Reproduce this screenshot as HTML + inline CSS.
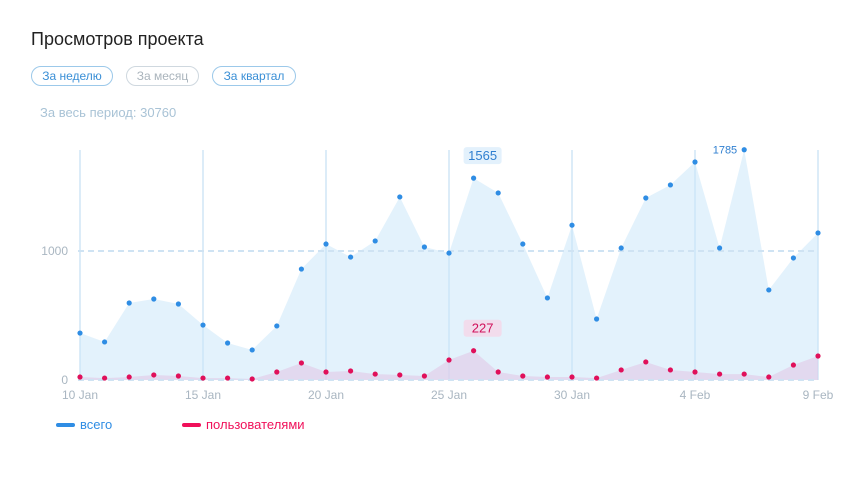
<!DOCTYPE html>
<html><head><meta charset="utf-8">
<style>
body{margin:0;background:#fff;font-family:"Liberation Sans","DejaVu Sans",sans-serif;}
#wrap{position:relative;width:859px;height:479px;overflow:hidden;}
h1{position:absolute;left:31px;top:29px;margin:0;font-weight:normal;font-size:18px;color:#222;}
.btn{position:absolute;top:66px;height:20px;line-height:19px;border:1px solid #9cc9ea;border-radius:11px;padding:0;font-size:12px;color:#3a8fd6;box-sizing:border-box;white-space:nowrap;text-align:center;}
.btn.g{border-color:#cfd8df;color:#aab4bc;}
#total{position:absolute;left:40px;top:105px;font-size:13px;color:#a9c3d6;white-space:nowrap;}
svg{position:absolute;left:0;top:0;}
</style></head>
<body><div id="wrap">
<h1>Просмотров проекта</h1>
<div class="btn" style="left:31px;width:82px">За неделю</div>
<div class="btn g" style="left:126px;width:73px">За месяц</div>
<div class="btn" style="left:212px;width:84px">За квартал</div>
<div id="total">За весь период: 30760</div>
<svg id="chart" width="859" height="479"></svg>
</div>
<script>
const dates=["10 Jan","11 Jan","12 Jan","13 Jan","14 Jan","15 Jan","16 Jan","17 Jan","18 Jan","19 Jan","20 Jan","21 Jan","22 Jan","23 Jan","24 Jan","25 Jan","26 Jan","27 Jan","28 Jan","29 Jan","30 Jan","31 Jan","1 Feb","2 Feb","3 Feb","4 Feb","5 Feb","6 Feb","7 Feb","8 Feb","9 Feb"];
const totalValues=[364,295,597,628,589,426,287,233,419,860,1054,953,1078,1419,1031,984,1565,1450,1054,636,1200,473,1023,1411,1512,1690,1023,1785,698,946,1140];
const userValues=[23,15,23,39,31,15,15,8,62,132,62,70,46,39,31,155,227,62,31,23,23,15,78,140,78,62,46,46,23,116,186];
const yTicks=[0,1000];
const xTickEvery=5;
const NS="http://www.w3.org/2000/svg";
const svg=document.getElementById('chart');
const x0=80,x1=818,yBase=380,pxPer=0.129;
function xs(i){return x0+(x1-x0)*i/(dates.length-1);}
function ys(v){return yBase-v*pxPer;}
function mk(t,a){const e=document.createElementNS(NS,t);for(const k in a)e.setAttribute(k,a[k]);svg.appendChild(e);return e;}
dates.forEach((d,i)=>{if(i%xTickEvery!==0)return;
 const l=mk('line',{x1:xs(i),x2:xs(i),y1:150,y2:yBase,stroke:'#dcecf8','stroke-width':2});
 
 
 const t=mk('text',{x:xs(i),y:399,'text-anchor':'middle','font-size':12,fill:'#a9b6c1'});
 t.textContent=d;
 
 
});
function area(vals,fill,name){
 let p='M'+xs(0)+','+yBase;vals.forEach((v,i)=>p+=' L'+xs(i)+','+ys(v));p+=' L'+xs(vals.length-1)+','+yBase+' Z';
 const a=mk('path',{d:p,fill:fill});
 
 
}
area(totalValues,'rgba(200,230,250,0.5)','total-area');
area(userValues,'rgba(225,200,230,0.6)','users-area');
yTicks.forEach(v=>{
 const l=mk('line',{x1:x0-2,x2:x1,y1:ys(v),y2:ys(v),stroke:'#cfe3f3','stroke-width':2,'stroke-dasharray':'6,4'});
 
 
 const t=mk('text',{x:68,y:ys(v)+4,'text-anchor':'end','font-size':12,fill:'#a9b6c1'});
 t.textContent=v;
 
 
});
totalValues.forEach((v,i)=>{const c=mk('circle',{cx:xs(i),cy:ys(v),r:2.6,fill:'#2f8de4'});
 
 });
userValues.forEach((v,i)=>{const c=mk('circle',{cx:xs(i),cy:ys(v),r:2.6,fill:'#e0105a'});
 
 });
function box(i,v,bg,col,name){
 const cx=xs(i)+9,cy=ys(v)-22;
 const r=mk('rect',{x:cx-19,y:cy-9,width:38,height:17,rx:3,fill:bg});
 
 
 const t=mk('text',{x:cx,y:cy+4,'text-anchor':'middle','font-size':13,fill:col});
 t.textContent=v;
 
 
}
const maxI=totalValues.indexOf(Math.max(...totalValues));
const uMaxI=userValues.indexOf(Math.max(...userValues));
box(16,totalValues[16],'#e3f1fc','#2f7fd0','total-tooltip');
box(uMaxI,userValues[uMaxI],'#f2dcec','#d0105a','users-tooltip');
const mt=mk('text',{x:xs(maxI)-7,y:ys(totalValues[maxI])+4,'text-anchor':'end','font-size':11,fill:'#2f7fd0'});
mt.textContent=totalValues[maxI];


[['#2f8de4','всего',58,'legend-total'],['#f0105a','пользователями',184,'legend-users']].forEach(([c,txt,x,n])=>{
 const l=mk('line',{x1:x,x2:x+15,y1:425,y2:425,stroke:c,'stroke-width':4,'stroke-linecap':'round'});
 
 
 const t=mk('text',{x:x+22,y:429,'font-size':13,fill:c});
 t.textContent=txt;
 
 
});
</script>
</body></html>
